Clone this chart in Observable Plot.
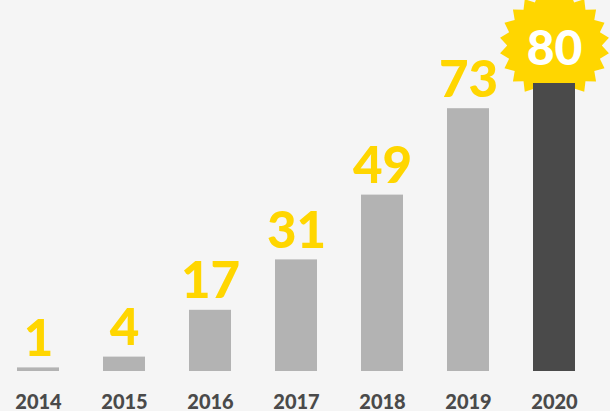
<!DOCTYPE html>
<html>
<head>
<meta charset="utf-8">
<script src="https://cdn.jsdelivr.net/npm/d3@7"></script>
<script src="https://cdn.jsdelivr.net/npm/@observablehq/plot@0.6"></script>
<style>
  html, body { margin: 0; padding: 0; background: #f5f5f5; }
  #chart svg { display: block; background: #f5f5f5; }
</style>
</head>
<body>
<div id="chart"></div>
<script>
const years = ["2014", "2015", "2016", "2017", "2018", "2019", "2020"];
const values = [1, 4, 17, 31, 49, 73, 80];
const highlightYear = "2020";

const data = years.map((year, i) => ({year, value: values[i]}));
const regular = data.filter(d => d.year !== highlightYear);
const highlighted = data.filter(d => d.year === highlightYear);

const YELLOW = "#ffd600";
const GRAY = "#b3b3b3";
const DARK = "#4a4a4a";

const starburst = {
  draw(context, size) {
    const R = Math.sqrt(size / Math.PI);
    const r = R * 0.86;
    const n = 22;
    for (let i = 0; i < 2 * n; i++) {
      const a = (i * Math.PI) / n - Math.PI / 2;
      const rad = i % 2 === 0 ? R : r;
      const px = rad * Math.cos(a), py = rad * Math.sin(a);
      if (i === 0) context.moveTo(px, py); else context.lineTo(px, py);
    }
    context.closePath();
  }
};

const chart = Plot.plot({
  width: 610,
  height: 411,
  margin: 0,
  style: {background: "#f5f5f5", overflow: "visible"},
  x: {type: "band", domain: years, range: [14.5, 576.8], paddingInner: 0.515, paddingOuter: 0, axis: null},
  y: {domain: [0, 80], range: [371, 83], axis: null},
  marks: [
    Plot.dot(highlighted, {x: "year", y: "value", r: 55, dy: -38, symbol: starburst, fill: YELLOW, stroke: "none"}),
    Plot.barY(data, {x: "year", y: "value", fill: d => d.year === highlightYear ? DARK : GRAY}),
    Plot.text(regular, {x: "year", y: "value", text: d => String(d.value), dy: -12, lineAnchor: "bottom",
      fill: YELLOW, fontSize: 51, fontWeight: 900, fontFamily: "Lato"}),
    Plot.text(highlighted, {x: "year", y: "value", text: d => String(d.value), dy: -34, lineAnchor: "middle",
      fill: "white", fontSize: 48, fontWeight: 900, fontFamily: "Lato"}),
    Plot.text(data, {x: "year", text: "year", frameAnchor: "bottom", lineAnchor: "bottom", dy: -3,
      fill: DARK, fontSize: 20, fontWeight: 900, fontFamily: "Lato"})
  ]
});
document.getElementById("chart").appendChild(chart);
</script>
</body>
</html>
